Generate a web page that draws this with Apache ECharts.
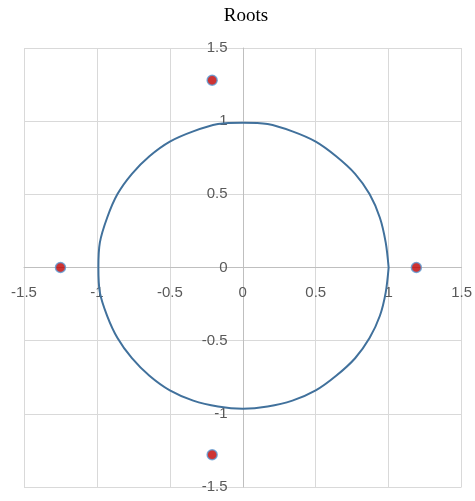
<!DOCTYPE html>
<html>
<head>
<meta charset="utf-8">
<script src="https://cdn.jsdelivr.net/npm/echarts@6/dist/echarts.min.js"></script>
<style>
  html, body { margin: 0; padding: 0; background: #fff; }
  #chart { width: 475px; height: 501px; }
</style>
</head>
<body>
<div id="chart"></div>
<script>
// Axis ticks
const axisMin = -1.5;
const axisMax = 1.5;
const axisStep = 0.5;

// Roots plotted as markers [re, im]
const rootPoints = [
  [-1.25, 0],
  [1.19, 0],
  [-0.21, 1.28],
  [-0.21, -1.28]
];

// Unit circle outline, traced point by point [x, y]
const circlePoints = [
  [1.00, 0], [0.98, 0.17], [0.94, 0.34], [0.87, 0.50], [0.77, 0.64], [0.64, 0.76],
  [0.50, 0.86], [0.34, 0.93], [0.17, 0.98], [0, 0.99], [-0.17, 0.98], [-0.34, 0.93],
  [-0.50, 0.86], [-0.64, 0.76], [-0.76, 0.64], [-0.86, 0.50], [-0.93, 0.34], [-0.98, 0.17],
  [-0.99, 0], [-0.98, -0.17], [-0.93, -0.33], [-0.86, -0.48], [-0.76, -0.62], [-0.64, -0.74],
  [-0.50, -0.84], [-0.34, -0.91], [-0.17, -0.95], [0, -0.965], [0.17, -0.95], [0.34, -0.91],
  [0.50, -0.84], [0.64, -0.74], [0.77, -0.62], [0.87, -0.48], [0.94, -0.33], [0.98, -0.17],
  [1.00, 0]
];

const W = 475, H = 501;
const grid = { left: 24, right: 12, top: 48, bottom: 14 };
const plotW = W - grid.left - grid.right;
const plotH = H - grid.top - grid.bottom;
// Shift each axis from the plot edge to the other axis's zero
const xAxisShift = -plotH * (0 - axisMin) / (axisMax - axisMin);
const yAxisShift = -plotW * (0 - axisMin) / (axisMax - axisMin);

const chart = echarts.init(document.getElementById('chart'), null, { renderer: 'canvas' });

const labelStyle = {
  color: '#595959',
  fontFamily: 'Liberation Sans, Arial, sans-serif',
  fontSize: 15
};
const gridLine = { show: true, lineStyle: { color: '#D9D9D9', width: 1 } };

chart.setOption({
  animation: false,
  title: {
    text: 'Roots',
    left: 241,
    top: 2,
    textAlign: 'center',
    textStyle: {
      fontFamily: 'Liberation Serif, Times New Roman, serif',
      fontWeight: 'normal',
      fontSize: 19,
      color: '#000'
    }
  },
  grid: Object.assign({ containLabel: false }, grid),
  xAxis: {
    type: 'value',
    position: 'bottom',
    offset: xAxisShift,
    min: axisMin,
    max: axisMax,
    interval: axisStep,
    axisLine: { show: true, onZero: false, lineStyle: { color: '#BFBFBF', width: 1 } },
    axisTick: { show: false },
    splitLine: gridLine,
    axisLabel: Object.assign({ margin: 18 }, labelStyle)
  },
  yAxis: {
    type: 'value',
    position: 'left',
    offset: yAxisShift,
    min: axisMin,
    max: axisMax,
    interval: axisStep,
    axisLine: { show: true, onZero: false, lineStyle: { color: '#BFBFBF', width: 1 } },
    axisTick: { show: false },
    splitLine: gridLine,
    axisLabel: Object.assign({ margin: 16 }, labelStyle)
  },
  series: [
    {
      name: 'Unit circle',
      type: 'line',
      data: circlePoints,
      smooth: 0.3,
      showSymbol: false,
      symbol: 'none',
      lineStyle: { color: '#41719C', width: 2 },
      z: 2
    },
    {
      name: 'Roots',
      type: 'scatter',
      data: rootPoints,
      symbol: 'circle',
      symbolSize: 10,
      itemStyle: { color: '#C00000', borderColor: '#5B9BD5', borderWidth: 1.5 },
      z: 3
    }
  ]
});
</script>
</body>
</html>
